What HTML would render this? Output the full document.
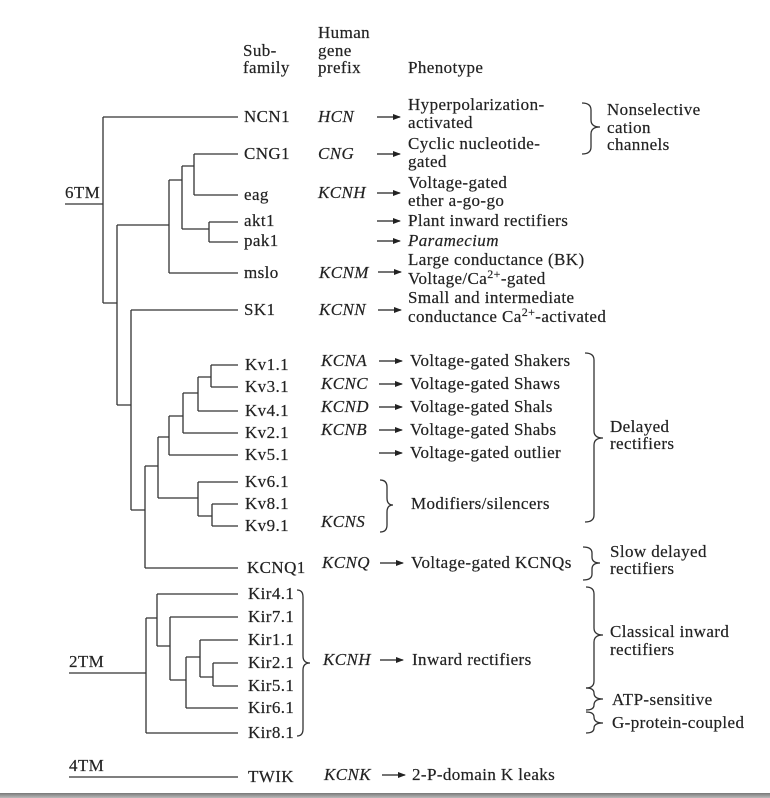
<!DOCTYPE html>
<html><head><meta charset="utf-8"><style>
html,body{margin:0;padding:0;background:#fff}
svg{display:block}
text{font-family:"Liberation Serif",serif;font-size:17px;letter-spacing:0.4px;fill:#222;stroke:#222;stroke-width:0.2px}
.i{font-style:italic}
</style></head><body>
<svg width="770" height="798" viewBox="0 0 770 798" xmlns="http://www.w3.org/2000/svg">
<defs><linearGradient id="g" x1="0" y1="0" x2="0" y2="1"><stop offset="0" stop-color="#777"/><stop offset="1" stop-color="#bbb"/></linearGradient>
<marker id="a" markerWidth="8" markerHeight="6" refX="7" refY="3" orient="auto" markerUnits="userSpaceOnUse"><path d="M0,0 L8,3 L0,6 Z" fill="#222"/></marker></defs>
<g stroke="#333" stroke-width="1.3" fill="none">
<path d="M65,204H103 M103,117V303 M103,117H238 M103,303H117 M117,225V405 M117,225H169 M169,180V273 M169,273H238 M169,180H182 M182,166V229 M182,166H194 M194,154V195 M194,154H238 M194,195H238 M182,229H209 M209,222V242 M209,222H238 M209,242H238"/>
<path d="M117,405H131 M131,310V510 M131,310H238 M131,510H145 M145,466V568 M145,568H238 M145,466H158 M158,437V498 M158,437H169 M169,416V455 M169,455H238 M169,416H183 M183,393V433 M183,433H238 M183,393H198 M198,377V411 M198,411H238 M198,377H211 M211,365V387 M211,365H238 M211,387H238 M158,498H198 M198,482V516 M198,482H238 M198,516H212 M212,504V526 M212,504H238 M212,526H238"/>
<path d="M69,673H146 M146,618V733 M146,733H238 M146,618H157 M157,594V646 M157,594H238 M157,646H170 M170,617V680 M170,617H238 M170,680H186 M186,657V708 M186,708H238 M186,657H200 M200,640V677 M200,640H238 M200,677H213 M213,663V686 M213,663H238 M213,686H238"/>
<path d="M69,777H238"/>
<path d="M582,103 Q591,103 591,110 V120 Q591,127 600,127 Q591,127 591,134 V147 Q591,154 582,154"/>
<path d="M585,353 Q594,353 594,360 V431 Q594,438 603,438 Q594,438 594,445 V515 Q594,522 585,522"/>
<path d="M380,480 Q387,480 387,487 V498 Q387,505 393,505 Q387,505 387,512 V525 Q387,532 380,532"/>
<path d="M583,547 Q592,547 592,553 V557 Q592,563 600,563 Q592,563 592,569 V574 Q592,580 583,580"/>
<path d="M297,590 Q303,590 303,597 V656 Q303,663 310,663 Q303,663 303,670 V729 Q303,736 297,736"/>
<path d="M586,587 Q594,587 594,594 V628 Q594,635 603,635 Q594,635 594,642 V681 Q594,688 586,688"/>
<path d="M586,688 Q594,688 594,693 Q594,699 603,699 Q594,699 594,705 Q594,710 586,710"/>
<path d="M586,712 Q594,712 594,717 Q594,723 603,723 Q594,723 594,728 Q594,733 586,733"/>
</g>
<g stroke="#222" stroke-width="1.2" marker-end="url(#a)">
<line x1="377" y1="117" x2="400" y2="117"/><line x1="377" y1="154" x2="400" y2="154"/><line x1="377" y1="193" x2="400" y2="193"/><line x1="377" y1="221" x2="400" y2="221"/><line x1="377" y1="241" x2="400" y2="241"/><line x1="378" y1="272" x2="401" y2="272"/><line x1="378" y1="310" x2="401" y2="310"/>
<line x1="379" y1="361" x2="402" y2="361"/><line x1="379" y1="384" x2="402" y2="384"/><line x1="379" y1="407" x2="402" y2="407"/><line x1="379" y1="430" x2="402" y2="430"/><line x1="379" y1="453" x2="402" y2="453"/><line x1="380" y1="563" x2="403" y2="563"/>
<line x1="380" y1="660" x2="403" y2="660"/><line x1="382" y1="775" x2="405" y2="775"/>
</g>
<text x="65" y="198">6TM</text><text x="69" y="667">2TM</text><text x="69" y="771">4TM</text>
<text x="243" y="56">Sub-</text><text x="243" y="73">family</text>
<text x="318" y="38">Human</text><text x="318" y="56">gene</text><text x="318" y="73">prefix</text>
<text x="408" y="73">Phenotype</text>
<g>
<text x="244" y="122">NCN1</text><text x="244" y="159">CNG1</text><text x="244" y="200">eag</text><text x="244" y="226">akt1</text><text x="244" y="246">pak1</text><text x="244" y="278">mslo</text><text x="244" y="315">SK1</text>
<text x="245" y="370">Kv1.1</text><text x="245" y="392">Kv3.1</text><text x="245" y="416">Kv4.1</text><text x="245" y="438">Kv2.1</text><text x="245" y="460">Kv5.1</text><text x="245" y="487">Kv6.1</text><text x="245" y="509">Kv8.1</text><text x="245" y="531">Kv9.1</text><text x="247" y="573">KCNQ1</text>
<text x="248" y="599">Kir4.1</text><text x="248" y="622">Kir7.1</text><text x="248" y="645">Kir1.1</text><text x="248" y="668">Kir2.1</text><text x="248" y="691">Kir5.1</text><text x="248" y="713">Kir6.1</text><text x="248" y="738">Kir8.1</text><text x="248" y="782">TWIK</text>
</g>
<text class="i" x="318" y="122">HCN</text><text class="i" x="318" y="159">CNG</text><text class="i" x="318" y="198">KCNH</text><text class="i" x="319" y="278">KCNM</text><text class="i" x="319" y="315">KCNN</text>
<text class="i" x="321" y="366">KCNA</text><text class="i" x="321" y="389">KCNC</text><text class="i" x="321" y="412">KCND</text><text class="i" x="321" y="435">KCNB</text><text class="i" x="321" y="527">KCNS</text><text class="i" x="322" y="568">KCNQ</text>
<text class="i" x="323" y="665">KCNH</text><text class="i" x="324" y="780">KCNK</text>
<text x="408" y="110">Hyperpolarization-</text><text x="408" y="128">activated</text>
<text x="408" y="149">Cyclic nucleotide-</text><text x="408" y="167">gated</text>
<text x="408" y="188">Voltage-gated</text><text x="408" y="206">ether a-go-go</text>
<text x="408" y="226">Plant inward rectifiers</text>
<text x="408" y="246" class="i">Paramecium</text>
<text x="408" y="265">Large conductance (BK)</text>
<text x="408" y="284">Voltage/Ca<tspan font-size="12" dy="-6">2+</tspan><tspan dy="6">-gated</tspan></text>
<text x="408" y="303">Small and intermediate</text>
<text x="408" y="322">conductance Ca<tspan font-size="12" dy="-6">2+</tspan><tspan dy="6">-activated</tspan></text>
<text x="410" y="366">Voltage-gated Shakers</text><text x="410" y="389">Voltage-gated Shaws</text><text x="410" y="412">Voltage-gated Shals</text><text x="410" y="435">Voltage-gated Shabs</text><text x="410" y="458">Voltage-gated outlier</text>
<text x="411" y="509">Modifiers/silencers</text>
<text x="411" y="568">Voltage-gated KCNQs</text>
<text x="412" y="665">Inward rectifiers</text>
<text x="412" y="780">2-P-domain K leaks</text>
<text x="607" y="115">Nonselective</text><text x="607" y="133">cation</text><text x="607" y="150">channels</text>
<text x="610" y="432">Delayed</text><text x="610" y="449">rectifiers</text>
<text x="610" y="557">Slow delayed</text><text x="610" y="574">rectifiers</text>
<text x="610" y="637">Classical inward</text><text x="610" y="655">rectifiers</text>
<text x="612" y="705">ATP-sensitive</text>
<text x="612" y="728">G-protein-coupled</text>
<rect x="0" y="793" width="770" height="5" fill="url(#g)"/>
</svg>
</body></html>
